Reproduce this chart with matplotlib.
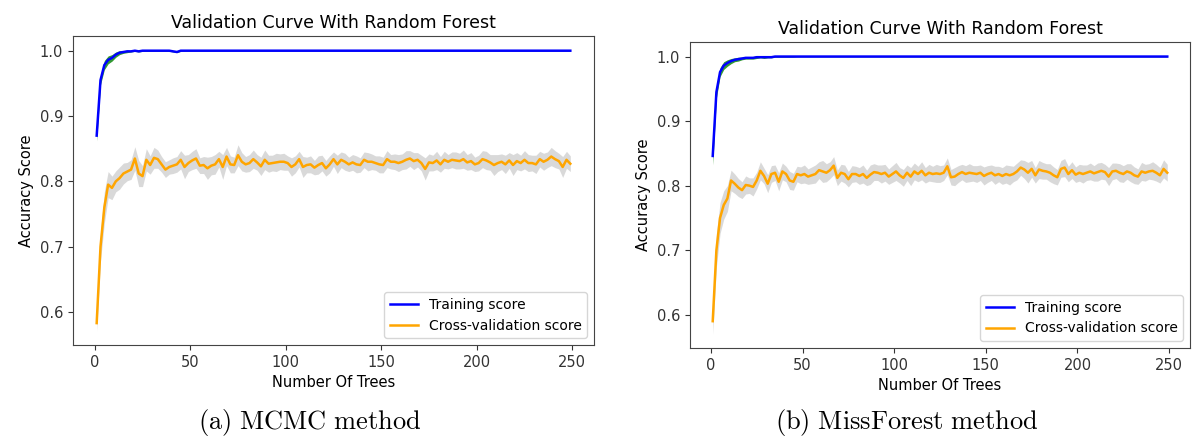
import matplotlib
matplotlib.use("Agg")
import matplotlib.pyplot as plt
import numpy as np

# number of trees (n_estimators), every second value from 1 to 249
n_trees = np.arange(1, 250, 2)

# ---- (a) MCMC method ----
mcmc_train_mean = [0.870, 0.955, 0.978, 0.986, 0.989, 0.994, 0.997, 0.998, 0.999, 0.999,
                   1.000, 0.999, 1.000, 1.000, 1.000, 1.000, 1.000, 1.000, 1.000, 1.000,
                   0.999, 0.998, 1.000] + [1.000] * 102
mcmc_train_std = [0.008, 0.007, 0.007, 0.006, 0.005, 0.004, 0.003, 0.002, 0.002, 0.001,
                  0.001, 0.001, 0.001, 0.001, 0.001, 0.001, 0.001, 0.001, 0.001, 0.001,
                  0.001, 0.001, 0.001] + [0.0005] * 102
mcmc_cv_mean = [0.583, 0.700, 0.760, 0.795, 0.790, 0.800, 0.805, 0.812, 0.815, 0.818,
                0.835, 0.812, 0.808, 0.833, 0.825, 0.836, 0.834, 0.826, 0.818, 0.822,
                0.824, 0.826, 0.833, 0.822, 0.828, 0.832, 0.835, 0.824, 0.825, 0.820,
                0.824, 0.826, 0.834, 0.822, 0.838, 0.826, 0.825, 0.840, 0.830, 0.826,
                0.828, 0.834, 0.829, 0.823, 0.833, 0.827, 0.828, 0.829, 0.830, 0.830,
                0.828, 0.822, 0.826, 0.834, 0.822, 0.825, 0.826, 0.821, 0.825, 0.828,
                0.820, 0.826, 0.834, 0.826, 0.833, 0.830, 0.826, 0.829, 0.826, 0.825,
                0.833, 0.830, 0.830, 0.828, 0.826, 0.825, 0.834, 0.830, 0.830, 0.828,
                0.830, 0.833, 0.835, 0.831, 0.833, 0.828, 0.819, 0.829, 0.828, 0.832,
                0.826, 0.833, 0.830, 0.833, 0.832, 0.831, 0.834, 0.829, 0.831, 0.826,
                0.828, 0.834, 0.832, 0.829, 0.825, 0.828, 0.830, 0.826, 0.832, 0.825,
                0.831, 0.828, 0.833, 0.828, 0.828, 0.826, 0.834, 0.830, 0.833, 0.838,
                0.834, 0.831, 0.822, 0.833, 0.827]
mcmc_cv_std = [0.012, 0.022, 0.024, 0.020, 0.018, 0.016, 0.017, 0.016, 0.014, 0.015,
               0.018, 0.020, 0.016, 0.017, 0.014, 0.016, 0.014, 0.012, 0.012, 0.011,
               0.012, 0.012, 0.014, 0.018, 0.013, 0.014, 0.015, 0.012, 0.013, 0.017,
               0.014, 0.015, 0.012, 0.019, 0.014, 0.013, 0.012, 0.016, 0.014, 0.012,
               0.013, 0.014, 0.012, 0.014, 0.015, 0.013, 0.012, 0.014, 0.012, 0.013,
               0.011, 0.014, 0.013, 0.012, 0.016, 0.012, 0.013, 0.011, 0.014, 0.012,
               0.012, 0.013, 0.011, 0.014, 0.012, 0.013, 0.011, 0.012, 0.013, 0.011,
               0.012, 0.014, 0.012, 0.011, 0.013, 0.012, 0.013, 0.011, 0.012, 0.013,
               0.012, 0.014, 0.012, 0.013, 0.011, 0.012, 0.017, 0.013, 0.012, 0.014,
               0.012, 0.013, 0.011, 0.012, 0.013, 0.012, 0.014, 0.012, 0.013, 0.011,
               0.012, 0.013, 0.014, 0.012, 0.016, 0.013, 0.012, 0.014, 0.012, 0.016,
               0.013, 0.012, 0.014, 0.013, 0.012, 0.014, 0.012, 0.013, 0.012, 0.014,
               0.013, 0.012, 0.016, 0.013, 0.012]

# ---- (b) MissForest method ----
mf_train_mean = [0.846, 0.945, 0.976, 0.986, 0.990, 0.993, 0.995, 0.996, 0.997, 0.998,
                 0.998, 0.998, 0.999, 0.999, 0.999, 0.999, 0.999, 1.000, 1.000, 1.000,
                 1.000, 1.000, 1.000] + [1.000] * 102
mf_train_std = [0.014, 0.009, 0.007, 0.006, 0.005, 0.004, 0.003, 0.003, 0.002, 0.002,
                0.002, 0.002, 0.002, 0.001, 0.002, 0.001, 0.001, 0.001, 0.001, 0.001,
                0.001, 0.001, 0.001] + [0.0005] * 102
mf_cv_mean = [0.590, 0.700, 0.750, 0.770, 0.780, 0.808, 0.803, 0.797, 0.793, 0.801,
              0.800, 0.798, 0.808, 0.823, 0.815, 0.803, 0.818, 0.820, 0.806, 0.822,
              0.818, 0.808, 0.806, 0.818, 0.816, 0.818, 0.814, 0.816, 0.818, 0.824,
              0.822, 0.820, 0.824, 0.831, 0.812, 0.820, 0.818, 0.810, 0.818, 0.818,
              0.815, 0.818, 0.812, 0.817, 0.821, 0.820, 0.818, 0.820, 0.814, 0.818,
              0.822, 0.816, 0.812, 0.820, 0.814, 0.822, 0.818, 0.823, 0.816, 0.820,
              0.818, 0.819, 0.818, 0.820, 0.830, 0.813, 0.814, 0.818, 0.821, 0.818,
              0.820, 0.819, 0.818, 0.820, 0.815, 0.818, 0.820, 0.816, 0.818, 0.815,
              0.818, 0.816, 0.818, 0.822, 0.828, 0.825, 0.820, 0.826, 0.816, 0.825,
              0.823, 0.822, 0.820, 0.816, 0.813, 0.826, 0.828, 0.818, 0.824, 0.817,
              0.820, 0.818, 0.820, 0.822, 0.819, 0.821, 0.823, 0.821, 0.814, 0.822,
              0.823, 0.820, 0.818, 0.822, 0.820, 0.816, 0.814, 0.822, 0.820, 0.822,
              0.823, 0.820, 0.816, 0.826, 0.820]
mf_cv_std = [0.020, 0.026, 0.024, 0.022, 0.020, 0.016, 0.015, 0.014, 0.013, 0.014,
             0.012, 0.014, 0.013, 0.014, 0.012, 0.014, 0.013, 0.012, 0.014, 0.013,
             0.012, 0.014, 0.013, 0.012, 0.013, 0.014, 0.012, 0.013, 0.014, 0.013,
             0.017, 0.014, 0.013, 0.014, 0.012, 0.013, 0.014, 0.012, 0.013, 0.012,
             0.013, 0.014, 0.012, 0.015, 0.013, 0.012, 0.014, 0.013, 0.012, 0.013,
             0.014, 0.012, 0.013, 0.012, 0.014, 0.013, 0.012, 0.014, 0.012, 0.013,
             0.012, 0.014, 0.013, 0.012, 0.013, 0.012, 0.014, 0.013, 0.012, 0.013,
             0.014, 0.012, 0.013, 0.012, 0.014, 0.013, 0.012, 0.014, 0.012, 0.013,
             0.014, 0.015, 0.012, 0.013, 0.012, 0.014, 0.016, 0.013, 0.012, 0.014,
             0.013, 0.012, 0.014, 0.013, 0.012, 0.013, 0.014, 0.012, 0.013, 0.012,
             0.013, 0.014, 0.012, 0.013, 0.012, 0.014, 0.013, 0.012, 0.014, 0.013,
             0.012, 0.014, 0.013, 0.012, 0.014, 0.013, 0.012, 0.014, 0.013, 0.012,
             0.014, 0.013, 0.012, 0.014, 0.013]

captions = ["(a) MCMC method", "(b) MissForest method"]

plt.rcParams["mathtext.fontset"] = "cm"
plt.rcParams["font.size"] = 10.5


def _draw_curve(ax, train_mean, train_std, cv_mean, cv_std):
    train_mean = np.array(train_mean); train_std = np.array(train_std)
    cv_mean = np.array(cv_mean); cv_std = np.array(cv_std)
    ax.plot(n_trees, train_mean, label="Training score", color="blue", lw=1.8)
    ax.plot(n_trees, cv_mean, label="Cross-validation score", color="orange", lw=1.8)
    ax.fill_between(n_trees, train_mean - train_std, train_mean + train_std,
                    color="green", alpha=0.8, lw=0)
    ax.fill_between(n_trees, cv_mean - cv_std, cv_mean + cv_std,
                    color="lightgray", alpha=0.85, lw=0)
    ax.set_title("Validation Curve With Random Forest", fontsize=12.5)
    ax.set_xlabel("Number Of Trees")
    ax.set_ylabel("Accuracy Score")
    ax.set_yticks([0.6, 0.7, 0.8, 0.9, 1.0])
    ax.set_xticks([0, 50, 100, 150, 200, 250])
    for s in ax.spines.values():
        s.set_color("#444444")
    ax.tick_params(colors="#333333")
    ax.legend(loc="lower right", fontsize=10)


W, H = 1195, 437
fig = plt.figure(figsize=(W / 100, H / 100), dpi=100)

ax1 = fig.add_axes([73 / W, 1 - 345 / H, (594 - 73) / W, (345 - 36) / H])
_draw_curve(ax1, mcmc_train_mean, mcmc_train_std, mcmc_cv_mean, mcmc_cv_std)

ax2 = fig.add_axes([690 / W, 1 - 348 / H, (1190 - 690) / W, (348 - 42) / H])
_draw_curve(ax2, mf_train_mean, mf_train_std, mf_cv_mean, mf_cv_std)

fig.text(310 / W, 1 - 422 / H, r"$\mathrm{(a)\ MCMC\ method}$", ha="center", va="center", fontsize=19)
fig.text(907 / W, 1 - 422 / H, r"$\mathrm{(b)\ MissForest\ method}$", ha="center", va="center", fontsize=19)

fig.savefig("out.png", dpi=100, facecolor="white")
plt.close(fig)
